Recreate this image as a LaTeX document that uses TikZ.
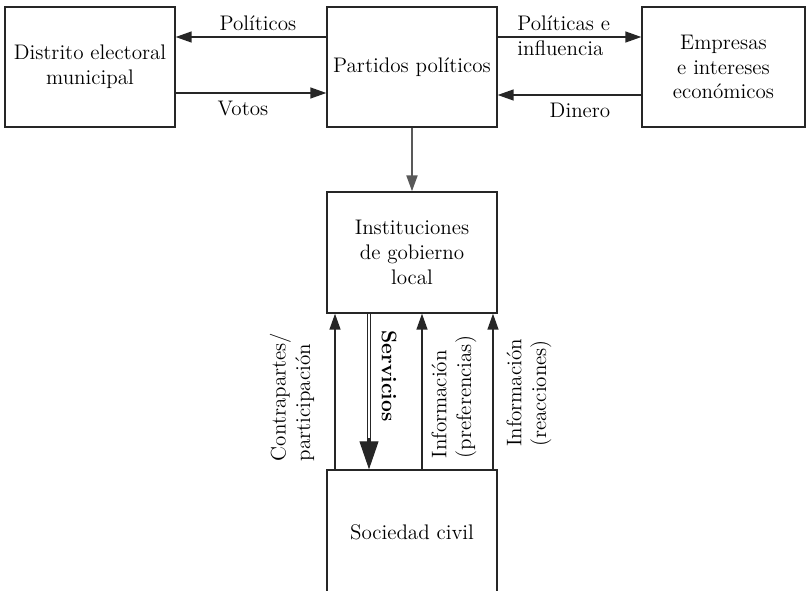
\documentclass[tikz,border=0pt]{standalone}
\usepackage{tikz}
\usetikzlibrary{arrows.meta}
\tikzset{
        caja/.style = {draw=black!85, line width=0.8pt, rectangle, align=center,
            inner sep=2pt, font=\large, minimum width=3.4cm, minimum height=2.4cm},
        etiq/.style = {inner sep=0pt, font=\large, align=center},
        etiq_v/.style = {etiq, rotate=90, align=left},
        flecha/.style = {draw=black!85, line width=0.8pt, ->},
        flecha_g/.style = {draw=black!65, line width=1.2pt, ->},
        servicio/.style = {draw=black!85, line width=0.6pt, double, double distance=1.6pt,
            shorten >=0.5cm}
    }
\begin{document}
\begin{tikzpicture}[x=0.02cm,y=-0.02cm,
            >={Triangle[length=0.32cm,width=0.22cm]}]
            \clip (0,0) rectangle (806,591);
            % cajas
            \node [caja] (distrito) at (90,67) {Distrito electoral\\municipal};
            \node [caja] (partidos) at (412,67) {Partidos pol\'iticos};
            \node [caja, minimum width=3.26cm] (empresas) at (723.5,67)
                {Empresas\\e intereses\\econ\'omicos};
            \node [caja, minimum height=2.42cm] (instituciones) at (412,252.5)
                {Instituciones\\de gobierno\\local};
            \node [caja, minimum height=2.48cm] (sociedad) at (412,532) {Sociedad civil};
            % fila superior
            \draw [flecha] ([yshift=0.6cm]partidos.west) -- ([yshift=0.6cm]distrito.east);
            \draw [flecha] ([yshift=-0.52cm]distrito.east) -- ([yshift=-0.52cm]partidos.west);
            \draw [flecha] ([yshift=0.6cm]partidos.east) -- ([yshift=0.6cm]empresas.west);
            \draw [flecha] ([yshift=-0.56cm]empresas.west) -- ([yshift=-0.56cm]partidos.east);
            \node [etiq] (politicos) at (258,23) {Pol\'iticos};
            \node [etiq] (votos) at (243,109) {Votos};
            \node [etiq, align=left, anchor=west] (politicas) at (517,36)
                {Pol\'iticas e\\influencia};
            \node [etiq] (dinero) at (580,110) {Dinero};
            % hacia abajo
            \draw [flecha_g] (partidos.south) -- (instituciones.north);
            \draw [flecha] ([xshift=-1.54cm]sociedad.north) -- ([xshift=-1.54cm]instituciones.south);
            \draw [servicio] ([xshift=-0.86cm]instituciones.south) -- ([xshift=-0.86cm]sociedad.north);
            \draw [draw=black!85, line width=0.6pt, -{Triangle[length=0.56cm,width=0.38cm]}]
                ([xshift=-0.86cm,yshift=0.62cm]sociedad.north) -- ([xshift=-0.86cm]sociedad.north);
            \draw [flecha] ([xshift=0.2cm]sociedad.north) -- ([xshift=0.2cm]instituciones.south);
            \draw [flecha] ([xshift=1.62cm]sociedad.north) -- ([xshift=1.62cm]instituciones.south);
            \node [etiq_v] (contrapartes) at (292,397) {Contrapartes/\\participaci\'on};
            \node [etiq, rotate=-90, font=\large\bfseries] (servicios) at (389,376) {Servicios};
            \node [etiq_v] (preferencias) at (454,397) {Informaci\'on\\(preferencias)};
            \node [etiq_v] (reacciones) at (529,393) {Informaci\'on\\(reacciones)};
        \end{tikzpicture}
\end{document}
